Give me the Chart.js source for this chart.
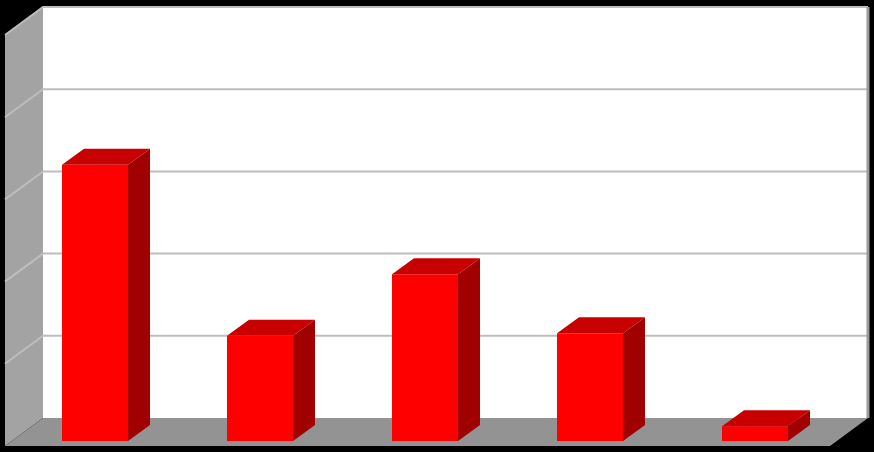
<!DOCTYPE html>
<html>
<head>
<meta charset="utf-8">
<script src="https://cdn.jsdelivr.net/npm/chart.js@4/dist/chart.umd.min.js"></script>
<style>
    body { margin: 0; background: #000; }
    #wrap { width: 874px; height: 452px; }
</style>
</head>
<body>
<div id="wrap"><canvas id="barChart" width="874" height="452"></canvas></div>
<script>
// data (axis has no labels, scale 0-50 in 5 steps)
const categories = ['1', '2', '3', '4', '5'];
const values = [33.6, 12.8, 20.3, 13.1, 1.8];
const yTicks = [0, 10, 20, 30, 40, 50];

// depth offsets (px) relative to the plane of the bar fronts
const backOff = { x: 30.5, y: -23 };
const frontOff = { x: -7.5, y: 5 };
const barDepth = { x: 22, y: -16 };

function poly(ctx, pts, fill) {
    ctx.beginPath();
    ctx.moveTo(pts[0][0], pts[0][1]);
    for (let i = 1; i < pts.length; i++) ctx.lineTo(pts[i][0], pts[i][1]);
    ctx.closePath();
    ctx.fillStyle = fill;
    ctx.fill();
}

const walls3d = {
    id: 'walls3d',
    beforeDatasetsDraw(chart) {
        const ctx = chart.ctx;
        const area = chart.chartArea;
        const y = chart.scales.y;
        const top = y.getPixelForValue(yTicks[yTicks.length - 1]);
        const base = y.getPixelForValue(0);
        const bl = area.left + backOff.x, br = area.right + backOff.x;
        const fl = area.left + frontOff.x, fr = area.right + frontOff.x;
        ctx.save();
        ctx.fillStyle = '#000';
        ctx.fillRect(0, 0, chart.width, chart.height);

        // back wall
        poly(ctx, [[bl, top + backOff.y], [br, top + backOff.y], [br, base + backOff.y], [bl, base + backOff.y]], '#ffffff');
        // left wall
        poly(ctx, [[bl, top + backOff.y], [bl, base + backOff.y], [fl, base + frontOff.y], [fl, top + frontOff.y]], '#a3a3a3');
        // floor
        poly(ctx, [[bl, base + backOff.y], [br, base + backOff.y], [fr, base + frontOff.y], [fl, base + frontOff.y]], '#939393');

        // gridlines on back and left walls
        ctx.strokeStyle = '#bdbdbd';
        ctx.lineWidth = 2;
        yTicks.forEach(function(v) {
            if (v === 0) return;
            const py = y.getPixelForValue(v);
            ctx.beginPath();
            ctx.moveTo(fl, py + frontOff.y);
            ctx.lineTo(bl, py + backOff.y);
            ctx.lineTo(br, py + backOff.y);
            ctx.stroke();
        });

        // right edge of back wall
        ctx.strokeStyle = '#9a9a9a';
        ctx.lineWidth = 3;
        ctx.beginPath();
        ctx.moveTo(br, top + backOff.y);
        ctx.lineTo(br, base + backOff.y);
        ctx.stroke();
        ctx.restore();
    },
    afterDatasetsDraw(chart) {
        const ctx = chart.ctx;
        const meta = chart.getDatasetMeta(0);
        ctx.save();
        meta.data.forEach(function(bar) {
            const p = bar.getProps(['x', 'y', 'base', 'width'], true);
            const l = p.x - p.width / 2, r = p.x + p.width / 2;
            // top face
            poly(ctx, [[l, p.y], [l + barDepth.x, p.y + barDepth.y], [r + barDepth.x, p.y + barDepth.y], [r, p.y]], '#c80000');
            // side face
            poly(ctx, [[r, p.y], [r + barDepth.x, p.y + barDepth.y], [r + barDepth.x, p.base + barDepth.y], [r, p.base]], '#a00000');
        });
        ctx.restore();
    }
};

const config = {
    type: 'bar',
    data: {
        labels: categories,
        datasets: [{
            data: values,
            backgroundColor: '#ff0000',
            borderWidth: 0,
            barPercentage: 0.4,
            categoryPercentage: 1.0
        }]
    },
    options: {
        responsive: false,
        animation: false,
        devicePixelRatio: 1,
        layout: { padding: { left: 12.5, right: 36.5, top: 30, bottom: 11 } },
        plugins: { legend: { display: false }, tooltip: { enabled: false } },
        scales: {
            x: { display: false },
            y: { display: false, min: 0, max: 50, ticks: { stepSize: 10 } }
        }
    },
    plugins: [walls3d]
};

const myBarChart = new Chart(document.getElementById('barChart'), config);
</script>
</body>
</html>
